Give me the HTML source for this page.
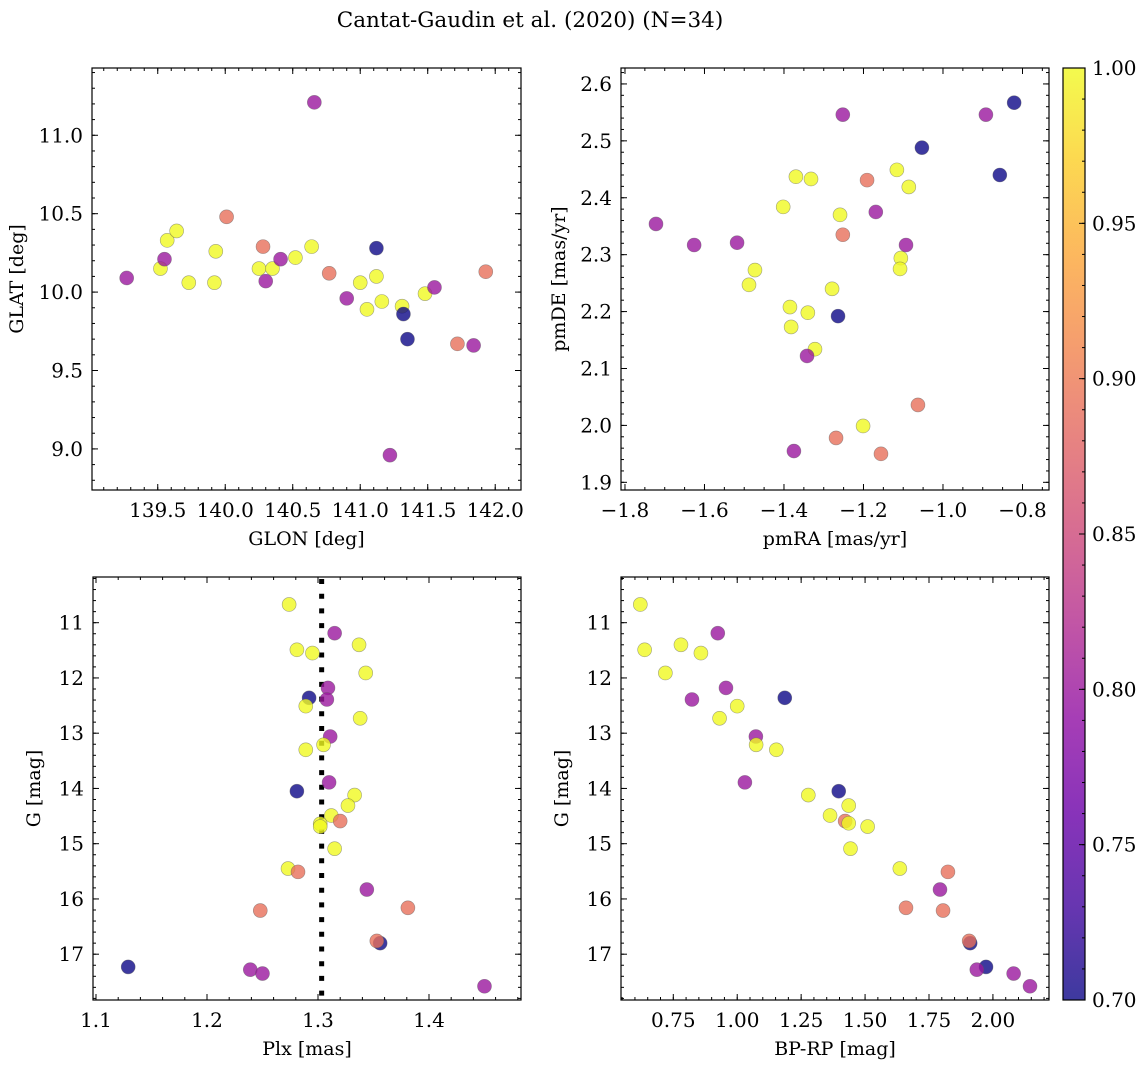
<!DOCTYPE html>
<html><head><meta charset="utf-8"><title>Cantat-Gaudin et al. (2020)</title>
<style>
html,body{margin:0;padding:0;background:#fff;}
svg{display:block;font-family:"DejaVu Serif","Liberation Serif",serif;}
</style></head>
<body>
<svg id="chart" width="1148" height="1067" viewBox="0 0 1148 1067" xmlns="http://www.w3.org/2000/svg">
<rect width="1148" height="1067" fill="#fff"/>
<text x="530" y="27" font-size="21.5" text-anchor="middle">Cantat-Gaudin et al. (2020) (N=34)</text>
</svg>
<script>
// ---- data ----
const glon = [139.27,139.52,139.55,139.57,139.64,139.73,139.93,139.92,140.01,140.25,140.28,140.35,140.30,140.41,140.52,140.64,140.66,140.77,140.90,141.00,141.05,141.12,141.12,141.16,141.31,141.32,141.35,141.22,141.48,141.55,141.72,141.84,141.93];
const glat = [10.09,10.15,10.21,10.33,10.39,10.06,10.26,10.06,10.48,10.15,10.29,10.15,10.07,10.21,10.22,10.29,11.21,10.12,9.96,10.06,9.89,10.28,10.10,9.94,9.91,9.86,9.70,8.96,9.99,10.03,9.67,9.66,10.13];
const probP1 = [0.80,1.00,0.80,1.00,1.00,1.00,1.00,1.00,0.89,1.00,0.89,1.00,0.80,0.80,1.00,1.00,0.80,0.89,0.80,1.00,1.00,0.70,1.00,1.00,1.00,0.70,0.70,0.80,1.00,0.80,0.89,0.80,0.89];

const pmra = [-1.722,-1.626,-1.518,-1.473,-1.488,-1.402,-1.370,-1.385,-1.382,-1.340,-1.322,-1.342,-1.375,-1.332,-1.279,-1.264,-1.269,-1.259,-1.252,-1.252,-1.201,-1.191,-1.156,-1.169,-1.116,-1.106,-1.108,-1.086,-1.093,-1.063,-1.053,-0.892,-0.857,-0.821];
const pmde = [2.354,2.317,2.321,2.273,2.247,2.384,2.437,2.208,2.173,2.198,2.134,2.122,1.955,2.433,2.240,2.192,1.978,2.370,2.335,2.546,1.999,2.431,1.950,2.375,2.449,2.294,2.275,2.419,2.317,2.036,2.488,2.546,2.440,2.567];
const probP2 = [0.80,0.80,0.80,1.00,1.00,1.00,1.00,1.00,1.00,1.00,1.00,0.80,0.80,1.00,1.00,0.70,0.89,1.00,0.89,0.80,1.00,0.89,0.89,0.80,1.00,1.00,1.00,1.00,0.80,0.89,0.70,0.80,0.70,0.70];

const plx = [1.274,1.315,1.337,1.281,1.295,1.343,1.309,1.292,1.308,1.289,1.338,1.311,1.305,1.289,1.310,1.281,1.333,1.327,1.312,1.320,1.302,1.302,1.315,1.273,1.282,1.344,1.248,1.381,1.356,1.353,1.129,1.239,1.250,1.450];
const gmagP3 = [10.67,11.19,11.40,11.49,11.55,11.91,12.18,12.36,12.39,12.51,12.73,13.06,13.21,13.30,13.89,14.05,14.12,14.31,14.49,14.59,14.64,14.69,15.09,15.45,15.51,15.83,16.21,16.16,16.80,16.76,17.23,17.28,17.35,17.58];
const probP3 = [1.00,0.80,1.00,1.00,1.00,1.00,0.80,0.70,0.80,1.00,1.00,0.80,1.00,1.00,0.80,0.70,1.00,1.00,1.00,0.89,1.00,1.00,1.00,1.00,0.89,0.80,0.89,0.89,0.70,0.89,0.70,0.80,0.80,0.80];
const plxMean = [1.3033];

const bprp = [0.621,0.638,0.780,0.924,0.858,0.719,0.956,0.823,1.186,1.000,0.931,1.073,1.074,1.153,1.030,1.397,1.278,1.436,1.363,1.422,1.436,1.510,1.443,1.636,1.824,1.793,1.660,1.805,1.911,1.907,1.973,1.937,2.081,2.145];
const gmagP4 = [10.67,11.49,11.40,11.19,11.55,11.91,12.18,12.39,12.36,12.51,12.73,13.06,13.21,13.30,13.89,14.05,14.12,14.31,14.49,14.59,14.63,14.69,15.09,15.45,15.51,15.83,16.16,16.21,16.80,16.76,17.23,17.28,17.35,17.58];
const probP4 = [1.00,1.00,1.00,0.80,1.00,1.00,0.80,0.80,0.70,1.00,1.00,0.80,1.00,1.00,0.80,0.70,1.00,1.00,1.00,0.89,1.00,1.00,1.00,1.00,0.89,0.80,0.89,0.89,0.70,0.89,0.70,0.80,0.80,0.80];

const cbarTicks = [0.70,0.75,0.80,0.85,0.90,0.95,1.00];

// ---- helpers ----
const NS = "http://www.w3.org/2000/svg";
const svg = document.getElementById('chart');
const plasma = ["#0d0887","#41049d","#6a00a8","#8f0da4","#b12a90","#cc4778","#e16462","#f2844b","#fca636","#fcce25","#f0f921"];
function hex(h){return [parseInt(h.substr(1,2),16),parseInt(h.substr(3,2),16),parseInt(h.substr(5,2),16)];}
function cmap(t){t=Math.max(0,Math.min(1,t));const f=t*10,i=Math.min(9,Math.floor(f)),u=f-i;const a=hex(plasma[i]),b=hex(plasma[i+1]);return 'rgb('+a.map((v,k)=>Math.round(v+(b[k]-v)*u)).join(',')+')';}
const VMIN=0.70,VMAX=1.00;
const FS=20;
function el(tag,attrs,parent){const e=document.createElementNS(NS,tag);for(const k in attrs)e.setAttribute(k,attrs[k]);(parent||svg).appendChild(e);return e;}
function fmtMinus(s){return s.replace('-','\u2212');}

function panel(cfg){
  const g=el('g',{});
  
  
  const X=v=>cfg.x0+(v-cfg.xmin)/(cfg.xmax-cfg.xmin)*(cfg.x1-cfg.x0);
  const Y=cfg.invertY? v=>cfg.y0+(v-cfg.ymin)/(cfg.ymax-cfg.ymin)*(cfg.y1-cfg.y0)
                     : v=>cfg.y1-(v-cfg.ymin)/(cfg.ymax-cfg.ymin)*(cfg.y1-cfg.y0);
  const tg=el('g',{stroke:'#000','stroke-width':1},g);
  function ticksX(start,step,len){for(let v=start;v<=cfg.xmax+1e-9;v+=step){if(v<cfg.xmin-1e-9)continue;const x=X(v);el('line',{x1:x,x2:x,y1:cfg.y1,y2:cfg.y1-len},tg);el('line',{x1:x,x2:x,y1:cfg.y0,y2:cfg.y0+len},tg);}}
  function ticksY(lo,hi,step,len){for(let v=lo;v<=hi+1e-9;v+=step){const y=Y(v);if(y<cfg.y0-0.5||y>cfg.y1+0.5)continue;el('line',{x1:cfg.x0,x2:cfg.x0+len,y1:y,y2:y},tg);el('line',{x1:cfg.x1,x2:cfg.x1-len,y1:y,y2:y},tg);}}
  const lo=Math.min(cfg.ymin,cfg.ymax),hi=Math.max(cfg.ymin,cfg.ymax);
  ticksX(Math.ceil(cfg.xmin/cfg.xminor)*cfg.xminor,cfg.xminor,3);
  ticksX(Math.ceil(cfg.xmin/cfg.xmajor)*cfg.xmajor,cfg.xmajor,6);
  ticksY(Math.ceil(lo/cfg.yminor)*cfg.yminor,hi,cfg.yminor,3);
  ticksY(Math.ceil(lo/cfg.ymajor)*cfg.ymajor,hi,cfg.ymajor,6);
  cfg.xlabels.forEach(v=>{const t=el('text',{x:X(v),y:cfg.y1+27,'font-size':FS,'text-anchor':'middle'},g);t.textContent=fmtMinus(v.toFixed(cfg.xdec));
    
    });
  cfg.ylabels.forEach(v=>{const t=el('text',{x:cfg.x0-9,y:Y(v)+7,'font-size':FS,'text-anchor':'end'},g);t.textContent=v.toFixed(cfg.ydec);
    
    });
  const xt=el('text',{x:(cfg.x0+cfg.x1)/2,y:cfg.y1+55,'font-size':19,'text-anchor':'middle'},g);xt.textContent=cfg.xtitle;
  
  
  const yc=(cfg.y0+cfg.y1)/2;
  const yt=el('text',{x:cfg.ytx,y:yc,'font-size':19,'text-anchor':'middle',transform:'rotate(-90 '+cfg.ytx+' '+yc+')'},g);yt.textContent=cfg.ytitle;
  
  
  if(cfg.extra)cfg.extra(g,X,Y);
  cfg.xs.forEach((xv,i)=>{const c=el('circle',{cx:X(xv),cy:Y(cfg.ys[i]),r:7,fill:cmap((cfg.cs[i]-VMIN)/(VMAX-VMIN)),'fill-opacity':0.8,stroke:'rgba(90,90,90,0.55)','stroke-width':0.6},g);
    
    });
  const fr=el('rect',{x:cfg.x0,y:cfg.y0,width:cfg.x1-cfg.x0,height:cfg.y1-cfg.y0,fill:'none',stroke:'#000','stroke-width':1.2},g);
  
  
}

panel({name:'glon-glat-panel',x0:92,x1:521,y0:68,y1:490,xmin:139.013,xmax:142.191,ymin:8.738,ymax:11.429,
  xmajor:0.5,xminor:0.1,ymajor:0.5,yminor:0.1,xlabels:[139.5,140.0,140.5,141.0,141.5,142.0],xdec:1,ylabels:[9.0,9.5,10.0,10.5,11.0],ydec:1,
  xtitle:'GLON [deg]',ytitle:'GLAT [deg]',ytx:23,xs:glon,ys:glat,cs:probP1});
panel({name:'proper-motion-panel',x0:621,x1:1049,y0:68,y1:490,xmin:-1.81,xmax:-0.7333,ymin:1.8865,ymax:2.628,
  xmajor:0.2,xminor:0.05,ymajor:0.1,yminor:0.02,xlabels:[-1.8,-1.6,-1.4,-1.2,-1.0,-0.8],xdec:1,ylabels:[1.9,2.0,2.1,2.2,2.3,2.4,2.5,2.6],ydec:1,
  xtitle:'pmRA [mas/yr]',ytitle:'pmDE [mas/yr]',ytx:565,xs:pmra,ys:pmde,cs:probP2});
panel({name:'parallax-magnitude-panel',x0:93,x1:521,y0:577,y1:1000,xmin:1.0973,xmax:1.4829,ymin:10.173,ymax:17.829,invertY:true,
  xmajor:0.1,xminor:0.02,ymajor:1,yminor:0.2,xlabels:[1.1,1.2,1.3,1.4],xdec:1,ylabels:[11,12,13,14,15,16,17],ydec:0,
  xtitle:'Plx [mas]',ytitle:'G [mag]',ytx:40,xs:plx,ys:gmagP3,cs:probP3,
  extra:(g,X,Y)=>{const l=el('line',{x1:X(plxMean[0]),x2:X(plxMean[0]),y1:579,y2:1000,stroke:'#000','stroke-width':5,'stroke-dasharray':'5 9.7'},g);
    
    }});
panel({name:'cmd-panel',x0:621,x1:1049,y0:577,y1:1000,xmin:0.5455,xmax:2.2193,ymin:10.173,ymax:17.829,invertY:true,
  xmajor:0.25,xminor:0.05,ymajor:1,yminor:0.2,xlabels:[0.75,1.00,1.25,1.50,1.75,2.00],xdec:2,ylabels:[11,12,13,14,15,16,17],ydec:0,
  xtitle:'BP-RP [mag]',ytitle:'G [mag]',ytx:568,xs:bprp,ys:gmagP4,cs:probP4});

(function(){
  const cx0=1063,cx1=1085,cy0=68,cy1=1000;
  const g=el('g',{});
  
  
  const defs=el('defs',{},g);
  const lg=el('linearGradient',{id:'cbg',x1:0,y1:1,x2:0,y2:0},defs);
  for(let i=0;i<=20;i++){el('stop',{offset:(i/20),'stop-color':cmap(i/20),'stop-opacity':0.8},lg);}
  el('rect',{x:cx0,y:cy0,width:cx1-cx0,height:cy1-cy0,fill:'url(#cbg)'},g);
  const Yc=v=>cy1-(v-VMIN)/(VMAX-VMIN)*(cy1-cy0);
  for(let v=VMIN;v<=VMAX+1e-9;v+=0.01){const y=Yc(v);el('line',{x1:cx1,x2:cx1-3,y1:y,y2:y,stroke:'#000'},g);}
  cbarTicks.forEach(v=>{const y=Yc(v);el('line',{x1:cx1,x2:cx1-6,y1:y,y2:y,stroke:'#000'},g);
    const t=el('text',{x:cx1+7,y:y+7,'font-size':FS},g);t.textContent=v.toFixed(2);
    
    });
  el('rect',{x:cx0,y:cy0,width:cx1-cx0,height:cy1-cy0,fill:'none',stroke:'#000','stroke-width':1.2},g);
})();
</script>
</body></html>
